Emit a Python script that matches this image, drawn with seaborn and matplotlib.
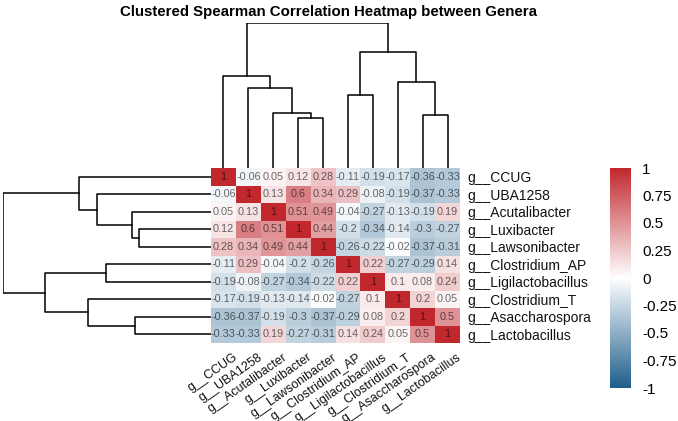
import numpy as np
import pandas as pd
import matplotlib
matplotlib.use("Agg")
import matplotlib.pyplot as plt
import matplotlib.transforms as mtransforms
import seaborn as sns
from matplotlib.colors import LinearSegmentedColormap

# genera in clustered order
genera = ["g__CCUG", "g__UBA1258", "g__Acutalibacter", "g__Luxibacter",
          "g__Lawsonibacter", "g__Clostridium_AP", "g__Ligilactobacillus",
          "g__Clostridium_T", "g__Asaccharospora", "g__Lactobacillus"]

# spearman correlations, row by row
r_ccug = [1, -0.06, 0.05, 0.12, 0.28, -0.11, -0.19, -0.17, -0.36, -0.33]
r_uba = [-0.06, 1, 0.13, 0.6, 0.34, 0.29, -0.08, -0.19, -0.37, -0.33]
r_acut = [0.05, 0.13, 1, 0.51, 0.49, -0.04, -0.27, -0.13, -0.19, 0.19]
r_lux = [0.12, 0.6, 0.51, 1, 0.44, -0.2, -0.34, -0.14, -0.3, -0.27]
r_laws = [0.28, 0.34, 0.49, 0.44, 1, -0.26, -0.22, -0.02, -0.37, -0.31]
r_cap = [-0.11, 0.29, -0.04, -0.2, -0.26, 1, 0.22, -0.27, -0.29, 0.14]
r_ligi = [-0.19, -0.08, -0.27, -0.34, -0.22, 0.22, 1, 0.1, 0.08, 0.24]
r_ct = [-0.17, -0.19, -0.13, -0.14, -0.02, -0.27, 0.1, 1, 0.2, 0.05]
r_asa = [-0.36, -0.37, -0.19, -0.3, -0.37, -0.29, 0.08, 0.2, 1, 0.5]
r_lac = [-0.33, -0.33, 0.19, -0.27, -0.31, 0.14, 0.24, 0.05, 0.5, 1]

# dendrogram merges: (child a, child b, height relative to root); new ids start at 10
merge_a = [3, 2, 1, 0, 5, 8, 7, 14, 13]
merge_b = [4, 10, 11, 12, 6, 9, 15, 16, 17]
merge_h = [0.345, 0.38, 0.55, 0.635, 0.505, 0.365, 0.59, 0.80, 1.0]

cbar_ticks = [1, 0.75, 0.5, 0.25, 0, -0.25, -0.5, -0.75, -1]

corr = pd.DataFrame([r_ccug, r_uba, r_acut, r_lux, r_laws, r_cap, r_ligi,
                     r_ct, r_asa, r_lac], index=genera, columns=genera)


def fmt(v):
    return "{:g}".format(v)


labels = corr.map(fmt).values

W, H = 678, 421
fig = plt.figure(figsize=(W / 100, H / 100), dpi=100)
plt.rcParams['font.family'] = ['Liberation Sans', 'DejaVu Sans']


def box(x0, y0, x1, y1):
    # pixel box (top-left origin) -> figure fraction rect
    return [x0 / W, 1 - y1 / H, (x1 - x0) / W, (y1 - y0) / H]


ax_hm = fig.add_axes(box(211, 168, 460, 343))
ax_top = fig.add_axes(box(211, 23, 460, 168))
ax_left = fig.add_axes(box(3, 168, 211, 343))
ax_cb = fig.add_axes(box(610, 168, 631, 388))

cmap = LinearSegmentedColormap.from_list("rb", ["#1F5E8C", "#FFFFFF", "#C0282E"])

sns.heatmap(corr, ax=ax_hm, cmap=cmap, vmin=-1, vmax=1, annot=labels, fmt="",
            annot_kws={"size": 7.8, "color": "black", "alpha": 0.58},
            cbar_ax=ax_cb, cbar_kws={"ticks": cbar_ticks})

ax_hm.yaxis.tick_right()
ax_hm.set_yticklabels(genera, rotation=0, fontsize=10, color="#111111")
ax_hm.set_xticklabels(genera, rotation=35, ha="right", va="top",
                      rotation_mode="anchor", fontsize=9, color="#111111")
ax_hm.tick_params(axis="y", length=0, pad=5)
ax_hm.tick_params(axis="x", length=0, pad=6)
shift = mtransforms.ScaledTranslation(9 / 100, 0, fig.dpi_scale_trans)
for lab in ax_hm.get_xticklabels():
    lab.set_transform(lab.get_transform() + shift)
ax_hm.set_xlabel("")
ax_hm.set_ylabel("")

cbar = ax_hm.collections[0].colorbar
cbar.outline.set_visible(False)
ax_cb.set_yticklabels([fmt(t) for t in cbar_ticks], fontsize=11)
ax_cb.tick_params(length=0, pad=8)


# dendrograms from merge list
def draw_dendro(ax, orient):
    pos = {i: i + 0.5 for i in range(len(genera))}
    hgt = {i: 0.0 for i in range(len(genera))}
    for k, (a, b, h) in enumerate(zip(merge_a, merge_b, merge_h)):
        node = len(genera) + k
        xs = [pos[a], pos[a], pos[b], pos[b]]
        ys = [hgt[a], h, h, hgt[b]]
        if orient == "top":
            ax.plot(xs, ys, color="black", lw=1.1)
        else:
            ax.plot(ys, xs, color="black", lw=1.1)
        pos[node] = (pos[a] + pos[b]) / 2
        hgt[node] = h
    if orient == "top":
        ax.set_xlim(0, len(genera))
        ax.set_ylim(0, 1.0)
    else:
        ax.set_ylim(len(genera), 0)
        ax.set_xlim(1.0, 0)
    ax.axis("off")


draw_dendro(ax_top, "top")
draw_dendro(ax_left, "left")

fig.text(0.484, 0.972, "Clustered Spearman Correlation Heatmap between Genera",
         ha="center", va="center", fontsize=10.8, fontweight="bold")

fig.savefig("out.png", dpi=100)
